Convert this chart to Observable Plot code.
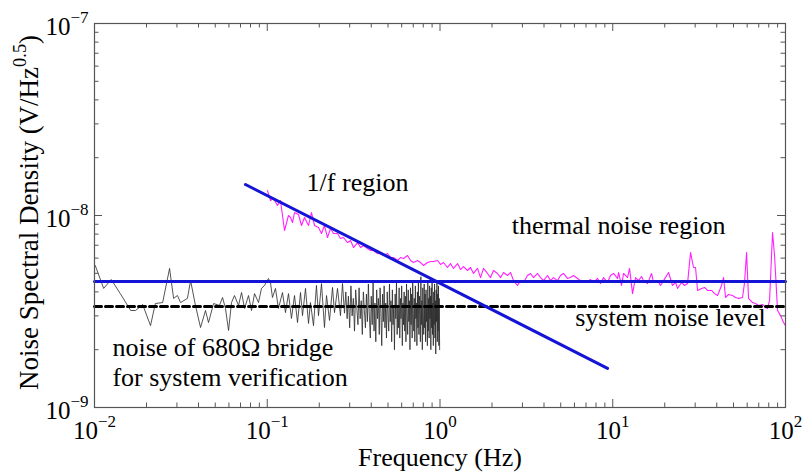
<!DOCTYPE html>
<html><head><meta charset="utf-8">
<script src="https://cdn.jsdelivr.net/npm/d3@7"></script>
<script src="https://cdn.jsdelivr.net/npm/@observablehq/plot@0.6"></script>
<style>body{margin:0;background:#fff} svg text, svg tspan{font-family:"Liberation Serif","Times New Roman",serif !important;}</style>
</head><body><div id="chart"></div>
<script>
// Noise of 680 Ohm bridge (system verification): frequency (Hz) and density (units of 1e-9 V/Hz^0.5)
const bridgeFreq = [
0.0101,0.0113,0.0125,0.0141,0.0162,0.0173,0.019,0.0211,0.0225,0.0248,
0.0272,0.0287,0.0302,0.0315,0.0345,0.036,0.0384,0.0411,0.0439,0.0457,
0.0489,0.0529,0.0551,0.0573,0.0597,0.0621,0.0646,0.0682,0.071,0.0739,
0.0779,0.0811,0.0844,0.089,0.0926,0.0964,0.1016,0.1044,0.1072,0.1116,
0.1161,0.1225,0.1275,0.1327,0.1381,0.1438,0.1497,0.1558,0.16,0.1665,
0.1733,0.1779,0.1852,0.1927,0.198,0.2061,0.2144,0.2203,0.2293,0.2387,
0.2451,0.2551,0.2654,0.2727,
0.28,0.285,0.29,0.295,0.3,0.305,0.31,0.315,0.32,0.325,
0.33,0.335,0.34,0.345,0.35,0.355,0.36,0.365,0.37,0.375,
0.38,0.385,0.39,0.395,0.4,0.405,0.41,0.415,0.42,0.425,
0.43,0.435,0.44,0.445,0.45,0.455,0.46,0.465,0.47,0.475,
0.48,0.485,0.49,0.495,0.5,0.505,0.51,0.515,0.52,0.525,
0.53,0.535,0.54,0.545,0.55,0.555,0.56,0.565,0.57,0.575,
0.58,0.585,0.59,0.595,0.6,0.605,0.61,0.615,0.62,0.625,
0.63,0.635,0.64,0.645,0.65,0.655,0.66,0.665,0.67,0.675,
0.68,0.685,0.69,0.695,0.7,0.705,0.71,0.715,0.72,0.725,
0.73,0.735,0.74,0.745,0.75,0.755,0.76,0.765,0.77,0.775,
0.78,0.785,0.79,0.795,0.8,0.805,0.81,0.815,0.82,0.825,
0.83,0.835,0.84,0.845,0.85,0.855,0.86,0.865,0.87,0.875,
0.88,0.885,0.89,0.895,0.9,0.905,0.91,0.915,0.92,0.925,
0.93,0.935,0.94,0.945,0.95,0.955,0.96,0.965,0.97,0.975,
0.98,0.985,0.99,0.995];
const bridgeNoise_nV = [
5.49,4.17,4.64,3.92,3.20,3.20,3.44,2.67,3.48,3.52,
5.30,3.70,3.83,3.52,3.70,4.58,3.40,2.61,3.20,2.77,
3.48,3.40,3.74,3.28,2.52,3.52,3.83,3.40,3.97,3.28,
3.83,3.20,3.92,3.52,4.17,4.32,4.70,4.48,3.74,4.17,
3.28,3.97,3.12,3.92,2.91,3.83,2.77,3.97,3.01,4.17,
2.74,3.52,2.67,4.32,3.01,4.42,2.61,3.83,2.84,4.22,
3.12,4.17,3.01,4.42,
3.1,4.0,2.9,3.8,2.6,4.3,3.0,3.7,2.5,4.1,
3.3,2.7,4.2,2.9,3.6,2.4,4.0,3.2,2.6,3.9,
2.8,4.4,3.0,2.3,3.8,2.7,4.6,2.5,3.5,2.2,
4.1,2.9,3.7,2.4,4.2,3.1,2.1,3.9,2.8,4.3,
2.6,3.5,2.3,4.0,3.0,2.5,4.4,2.8,3.6,2.2,
4.1,2.7,3.4,2.0,3.9,2.9,4.5,2.4,3.3,2.6,
4.2,2.3,3.7,2.9,4.3,2.1,3.5,2.7,4.0,2.5,
3.8,2.2,4.4,3.0,2.4,4.1,2.8,3.6,2.0,4.2,
2.7,3.9,2.3,4.5,3.1,2.5,3.7,2.2,4.3,2.9,
3.5,2.1,4.0,2.6,4.6,2.4,3.8,2.9,2.2,4.8,
2.7,3.6,2.0,4.2,3.0,2.4,4.4,2.6,3.9,2.2,
4.1,2.8,3.4,2.1,4.5,2.5,3.7,2.3,4.3,2.9,
3.8,2.0,4.2,2.6,4.7,2.4,3.5,2.1,4.0,2.7,
4.4,2.3,3.6,1.9,4.1,2.8,4.6,2.2,3.9,2.5,
4.3,2.1,3.7,2.0];

// Measured noise (magenta): frequency (Hz) and density (units of 1e-9 V/Hz^0.5)
const thermFreq = [
0.1003,0.1044,0.1087,0.1146,0.1193,0.1259,0.1327,0.1364,0.14,0.1438,
0.1517,0.1578,0.1643,0.1733,0.1803,0.1878,0.198,0.2061,0.2144,0.2233,
0.2323,0.2419,0.2551,0.2654,0.2762,0.2915,0.3034,0.3158,0.3331,0.3467,
0.3606,0.3802,0.3963,0.4121,0.4345,0.4529,0.471,0.4966,0.517,0.5383,
0.5675,0.5909,0.6152,0.6486,0.6752,0.703,0.7412,0.7716,0.8034,0.847,
0.8818,0.918,0.9677,1.007,1.048,1.105,1.15,1.197,1.263,1.315,
1.368,1.443,1.502,1.563,1.648,1.716,1.786,1.883,1.961,2.041,
2.153,2.241,2.333,2.46,2.561,2.665,2.81,2.925,3.045,3.211,
3.342,3.479,3.67,3.819,3.975,4.192,4.363,4.541,4.788,4.985,
5.188,5.471,5.694,5.927,6.251,6.507,6.772,7.142,7.433,7.741,
8.163,8.497,8.843,9.325,9.706,10.11,10.66,10.8,11.24,11.55,
12.18,12.51,13.02,13.55,14.1,14.68,15.07,15.9,16.77,17.22,
18.16,18.91,19.68,21.04,22.18,23.09,23.71,25.01,26.04,27.1,
28.2,29.36,30.15,30.97,32.66,33.99,35.38,37.32,38.83,40.43,
42.63,43.78,44.98,46.81,49.38,51.4,53.46,56.41,57.94,59.51,
61.13,64.45,67.08,69.82,73.62,76.65,78.7,80.86,84.14,86.42,
89.95,93.61,97.44,100];
const thermNoise_nV = [
13.49,11.97,12.26,11.27,11.97,8.35,10.0,9.77,9.19,10.36,
10.12,8.87,9.77,8.87,10.36,8.87,8.66,8.06,8.87,7.68,
8.55,8.06,8.06,7.59,7.68,7.23,7.41,6.81,7.23,6.81,
6.98,6.73,6.57,6.57,6.34,6.42,6.19,6.34,6.04,6.04,
5.83,6.04,5.97,6.19,5.83,5.69,5.83,5.69,5.49,5.69,
5.76,5.76,5.83,5.56,5.69,5.36,5.62,5.30,5.62,5.23,
5.42,5.17,5.36,4.99,5.30,4.75,5.30,4.99,4.75,5.17,
4.99,4.75,5.05,4.87,5.05,4.58,4.32,4.58,4.48,4.87,
4.99,4.75,4.99,4.75,4.58,4.87,4.58,4.75,4.58,4.87,
4.99,4.70,4.75,4.87,4.70,4.58,4.48,4.53,4.64,4.48,
4.70,4.42,4.75,4.48,4.87,4.99,4.70,5.05,4.32,4.99,
4.75,5.30,3.92,4.75,4.58,4.81,4.58,4.42,4.99,4.48,
4.58,4.32,4.58,5.05,4.32,4.48,4.17,4.48,4.32,4.42,
6.42,5.36,5.36,4.07,4.17,4.22,4.07,4.07,3.92,3.83,
4.32,4.75,3.74,3.88,3.83,3.74,3.70,3.74,4.48,6.42,
3.70,3.52,3.48,3.40,3.44,3.32,3.28,3.61,8.15,6.19,
3.20,3.01,2.77,2.67];

// Fitted lines
const thermalFitFreq = [0.01, 100];
const thermalFit_nV = [4.53, 4.53];
const systemLevelFreq = [0.01, 100];
const systemLevel_nV = [3.36, 3.36];
const oneOverFFreq = [0.0748, 9.33];
const oneOverF_nV = [14.5, 1.6];

// Axes
const xTickValues = [0.01, 0.1, 1, 10, 100];
const xTickLabels = ["10^\u22122", "10^\u22121", "10^0", "10^1", "10^2"];
const yTickValues = [1, 10, 100]; // in units of 1e-9
const yTickLabels = ["10^\u22129", "10^\u22128", "10^\u22127"];
const xTitle = "Frequency (Hz)";
const yTitle = "Noise Spectral Density (V/Hz^0.5)";

// Annotations (centered ones, then left-aligned ones)
const annCenterText = ["1/f region", "thermal noise region", "system noise level"];
const annCenterFreq = [0.333, 10.8, 21.6];
const annCenterLevel = [14.9, 8.87, 2.94];
const annLeftText = ["noise of 680\u03a9 bridge", "for system verification"];
const annLeftFreq = [0.0127, 0.0127];
const annLeftLevel = [2.05, 1.43];

const zip = (xs, ys) => xs.map((f, i) => ({f, v: ys[i]}));
const bridge = zip(bridgeFreq, bridgeNoise_nV);
const therm = zip(thermFreq, thermNoise_nV);
const thermalFit = zip(thermalFitFreq, thermalFit_nV);
const systemLevel = zip(systemLevelFreq, systemLevel_nV);
const oneOverF = zip(oneOverFFreq, oneOverF_nV);
const annC = annCenterText.map((t, i) => ({t, f: annCenterFreq[i], v: annCenterLevel[i]}));
const annL = annLeftText.map((t, i) => ({t, f: annLeftFreq[i], v: annLeftLevel[i]}));

const minorOf = (lo, hi) => { const out = []; for (let e = lo; e < hi; e++) for (let m = 2; m <= 9; m++) out.push(m * Math.pow(10, e)); return out; };
const xMinor = minorOf(-2, 2);
const yMinor = minorOf(0, 2);

const W = 805, H = 475, mL = 94, mR = 20, mT = 23, mB = 68;
const pw = W - mL - mR, ph = H - mT - mB;
const major = 8, minor = 4.5, axisColor = "#555";
const serif = "Liberation Serif";
const txt = {fontFamily: serif, fill: "black", lineAnchor: "middle"};

const chart = Plot.plot({
  width: W, height: H,
  marginLeft: mL, marginRight: mR, marginTop: mT, marginBottom: mB,
  x: {type: "log", domain: [0.01, 100], axis: null},
  y: {type: "log", domain: [1, 100], axis: null},
  style: {fontFamily: serif, background: "white", color: "black"},
  marks: [
    Plot.line(bridge, {x: "f", y: "v", stroke: "#2a2a2a", strokeWidth: 0.8}),
    Plot.line(therm, {x: "f", y: "v", stroke: "#ff22ff", strokeWidth: 1.1}),
    Plot.line(systemLevel, {x: "f", y: "v", stroke: "black", strokeWidth: 3, strokeDasharray: "7,4"}),
    Plot.line(thermalFit, {x: "f", y: "v", stroke: "#1414d6", strokeWidth: 3}),
    Plot.line(oneOverF, {x: "f", y: "v", stroke: "#1414d6", strokeWidth: 3}),
    // inward ticks on all four sides
    Plot.ruleX(xTickValues, {x: d => d, insetTop: ph - major, stroke: axisColor}),
    Plot.ruleX(xTickValues, {x: d => d, insetBottom: ph - major, stroke: axisColor}),
    Plot.ruleX(xMinor, {x: d => d, insetTop: ph - minor, stroke: axisColor}),
    Plot.ruleX(xMinor, {x: d => d, insetBottom: ph - minor, stroke: axisColor}),
    Plot.ruleY(yTickValues, {y: d => d, insetRight: pw - major, stroke: axisColor}),
    Plot.ruleY(yTickValues, {y: d => d, insetLeft: pw - major, stroke: axisColor}),
    Plot.ruleY(yMinor, {y: d => d, insetRight: pw - minor, stroke: axisColor}),
    Plot.ruleY(yMinor, {y: d => d, insetLeft: pw - minor, stroke: axisColor}),
    Plot.frame({stroke: axisColor, strokeWidth: 1.2}),
    // tick labels
    Plot.text(xTickValues, {...txt, x: d => d, frameAnchor: "bottom", dy: 23, textAnchor: "middle", text: (d, i) => xTickLabels[i], fontSize: 25}),
    Plot.text(yTickValues, {...txt, y: d => d, frameAnchor: "left", dx: -6, dy: 3, textAnchor: "end", text: (d, i) => yTickLabels[i], fontSize: 25}),
    // axis titles
    Plot.text([xTitle], {...txt, frameAnchor: "bottom", dy: 50, textAnchor: "middle", text: d => d, fontSize: 26}),
    Plot.text([yTitle], {...txt, frameAnchor: "left", dx: -65, dy: -3, rotate: -90, textAnchor: "middle", text: d => d, fontSize: 27}),
    // annotations
    Plot.text(annC, {...txt, x: "f", y: "v", text: "t", textAnchor: "middle", fontSize: 26}),
    Plot.text(annL, {...txt, x: "f", y: "v", text: "t", textAnchor: "start", fontSize: 26})
  ]
});
document.getElementById("chart").append(chart);

// superscripts: "base^sup)" -> tspans; force serif on every text
d3.select(chart).selectAll("text").each(function () {
  const sel = d3.select(this).style("font-family", "'Liberation Serif', serif");
  const t = this.textContent;
  const m = t.match(/^(.*?)\^([^)]*)(\)?)$/);
  if (!m) return;
  const fs = parseFloat(getComputedStyle(this).fontSize) || 25;
  sel.text(null);
  sel.append("tspan").text(m[1]);
  sel.append("tspan").attr("font-size", fs * 0.68).attr("dy", -fs * 0.45).text(m[2]);
  if (m[3]) sel.append("tspan").attr("dy", fs * 0.45).text(m[3]);
});
</script>
</body></html>
